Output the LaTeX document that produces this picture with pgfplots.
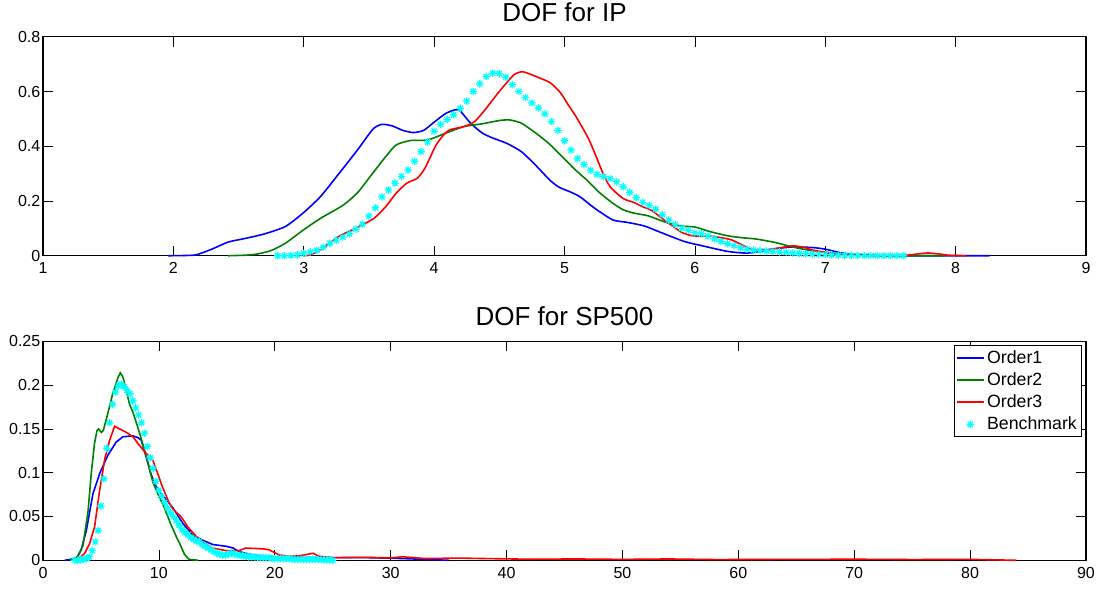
\documentclass[border=0pt]{standalone}
\usepackage{fontspec}
\setmainfont{Liberation Sans}
\usepackage{pgfplots}
\pgfplotsset{compat=1.18}
\definecolor{mblue}{rgb}{0,0,1}
\definecolor{mgreen}{rgb}{0,0.5,0}
\definecolor{mred}{rgb}{1,0,0}
\definecolor{mcyan}{rgb}{0,1,1}
\pgfdeclareplotmark{mstar}{%
  \pgfpathmoveto{\pgfqpoint{-\pgfplotmarksize}{0pt}}\pgfpathlineto{\pgfqpoint{\pgfplotmarksize}{0pt}}%
  \pgfpathmoveto{\pgfqpoint{0pt}{-\pgfplotmarksize}}\pgfpathlineto{\pgfqpoint{0pt}{\pgfplotmarksize}}%
  \pgfpathmoveto{\pgfqpoint{-0.707\pgfplotmarksize}{-0.707\pgfplotmarksize}}\pgfpathlineto{\pgfqpoint{0.707\pgfplotmarksize}{0.707\pgfplotmarksize}}%
  \pgfpathmoveto{\pgfqpoint{-0.707\pgfplotmarksize}{0.707\pgfplotmarksize}}\pgfpathlineto{\pgfqpoint{0.707\pgfplotmarksize}{-0.707\pgfplotmarksize}}%
  \pgfusepathqstroke}
\pgfplotsset{
  mat/.style={
    scale only axis, width=782.25pt, height=164.25pt,
    axis line style={line width=0.8pt},
    tick style={black, line width=0.5pt},
    major tick length=7.5pt, tick align=inside,
    ticklabel style={font=\fontsize{12}{14}\selectfont},
    /pgf/number format/assume math mode=true,
    xticklabel style={yshift=-1.5pt},
    yticklabel style={xshift=1.5pt},
    clip=false,
    title style={font=\fontsize{19.5}{23}\selectfont, at={(0.5,1)}, anchor=base, yshift=5.5pt},
    anchor=south west,
  },
  ln/.style={line width=1.2pt, no markers},
  bm/.style={only marks, mark=mstar, mark size=2.8pt, mcyan, mark options={line width=0.9pt}},
}
\begin{document}
\begin{tikzpicture}
\path[use as bounding box] (0,0) rectangle (829.5pt,-442.5pt);
% ---------------- top
\begin{axis}[mat, at={(32.25pt,-191.8pt)},
  xmin=1, xmax=9, ymin=0, ymax=0.8,
  xtick={1,2,...,9}, ytick={0,0.2,0.4,0.6,0.8},
  title={DOF for IP}]
\addplot[ln, mblue, smooth, tension=0.4] coordinates {
(1.96,0) (2.10,0.001) (2.18,0.004) (2.30,0.025) (2.42,0.05) (2.55,0.063) (2.70,0.08)
(2.86,0.107) (3.0,0.158) (3.13,0.217) (3.27,0.30) (3.41,0.385) (3.53,0.462) (3.60,0.48)
(3.68,0.474) (3.76,0.458) (3.84,0.45) (3.92,0.458) (4.0,0.488) (4.09,0.52) (4.16,0.533)
(4.20,0.529) (4.28,0.484) (4.37,0.448) (4.45,0.43) (4.56,0.41) (4.67,0.38) (4.78,0.33)
(4.89,0.275) (4.96,0.25) (5.05,0.232) (5.12,0.215) (5.23,0.174) (5.37,0.131) (5.48,0.122)
(5.61,0.109) (5.75,0.083) (5.92,0.052) (6.06,0.036) (6.25,0.016) (6.39,0.0097) (6.50,0.015)
(6.59,0.024) (6.75,0.032) (6.90,0.03) (7.0,0.024) (7.13,0.01) (7.30,0.002) (7.50,0) (8.26,0)};
\addplot[ln, mgreen, smooth, tension=0.4] coordinates {
(2.42,0) (2.55,0.002) (2.64,0.006) (2.75,0.019) (2.86,0.046) (3.0,0.095) (3.13,0.137)
(3.30,0.184) (3.41,0.229) (3.52,0.296) (3.63,0.363) (3.71,0.405) (3.82,0.421) (3.95,0.423)
(4.09,0.448) (4.23,0.472) (4.37,0.482) (4.50,0.494) (4.58,0.496) (4.67,0.484) (4.78,0.448)
(4.88,0.41) (4.98,0.363) (5.08,0.315) (5.17,0.277) (5.27,0.23) (5.37,0.192) (5.45,0.168)
(5.53,0.156) (5.64,0.146) (5.72,0.132) (5.81,0.117) (5.90,0.108) (6.0,0.105) (6.11,0.089)
(6.25,0.073) (6.36,0.066) (6.47,0.061) (6.61,0.049) (6.75,0.032) (6.88,0.02) (7.02,0.012)
(7.15,0.006) (7.30,0.002) (7.50,0) (7.92,0)};
\addplot[ln, mred, smooth, tension=0.4] coordinates {
(3.0,0) (3.05,0.003) (3.13,0.022) (3.27,0.071) (3.41,0.103) (3.54,0.137) (3.63,0.18)
(3.71,0.229) (3.79,0.265) (3.87,0.283) (3.93,0.32) (4.01,0.40) (4.07,0.44) (4.12,0.46)
(4.23,0.472) (4.31,0.49) (4.39,0.533) (4.50,0.60) (4.61,0.66) (4.68,0.672) (4.78,0.655)
(4.89,0.632) (4.97,0.595) (5.03,0.55) (5.09,0.507) (5.19,0.422) (5.29,0.307) (5.35,0.252)
(5.45,0.209) (5.53,0.195) (5.60,0.179) (5.67,0.165) (5.75,0.136) (5.84,0.105) (5.90,0.085)
(5.97,0.074) (6.05,0.071) (6.11,0.072) (6.20,0.066) (6.28,0.058) (6.36,0.04) (6.44,0.022)
(6.52,0.021) (6.59,0.024) (6.75,0.036) (6.84,0.03) (6.92,0.019) (7.11,0.004) (7.3,0.001)
(7.58,0) (7.70,0.006) (7.79,0.01) (7.90,0.005) (7.94,0.002) (8.08,0)};
\addplot[bm] table {
x y
2.80 0
2.85 0
2.90 0.001
2.95 0.003
3.00 0.009
3.05 0.014
3.10 0.02
3.15 0.031
3.20 0.045
3.25 0.057
3.30 0.068
3.35 0.08
3.40 0.097
3.45 0.115
3.50 0.145
3.55 0.175
3.60 0.215
3.65 0.24
3.70 0.265
3.75 0.29
3.80 0.313
3.85 0.345
3.90 0.38
3.95 0.416
4.00 0.455
4.05 0.48
4.10 0.498
4.15 0.515
4.20 0.538
4.25 0.565
4.30 0.60
4.35 0.628
4.40 0.655
4.45 0.667
4.50 0.665
4.55 0.652
4.60 0.625
4.65 0.6
4.70 0.578
4.75 0.558
4.80 0.54
4.85 0.518
4.90 0.49
4.95 0.458
5.00 0.42
5.05 0.386
5.10 0.355
5.15 0.333
5.20 0.312
5.25 0.297
5.30 0.289
5.35 0.282
5.40 0.27
5.45 0.252
5.50 0.232
5.55 0.212
5.60 0.195
5.65 0.183
5.70 0.17
5.75 0.15
5.80 0.13
5.85 0.114
5.90 0.1
5.95 0.093
6.00 0.084
6.05 0.08
6.10 0.072
6.15 0.062
6.20 0.052
6.25 0.044
6.30 0.037
6.35 0.029
6.40 0.024
6.45 0.021
6.50 0.019
6.55 0.017
6.60 0.016
6.65 0.014
6.70 0.012
6.75 0.01
6.80 0.008
6.85 0.007
6.90 0.006
6.95 0.005
7.00 0.004
7.05 0.003
7.10 0.002
7.15 0.001
7.20 0.001
7.25 0
7.30 0
7.35 0
7.40 0
7.45 0
7.50 0
7.55 0
7.60 0
};
\end{axis}
% ---------------- bottom
\begin{axis}[mat, at={(32.25pt,-420.2pt)},
  xmin=0, xmax=90, ymin=0, ymax=0.25,
  xtick={0,10,...,90}, ytick={0,0.05,0.1,0.15,0.2,0.25},
  yticklabel style={/pgf/number format/.cd, fixed, precision=2},
  title={DOF for SP500},
  legend style={at={(1,1)}, anchor=north east, xshift=-3pt, yshift=-3pt,
    font=\fontsize{13.3}{15}\selectfont, draw=black, line width=0.8pt,
    inner sep=1.5pt, row sep=1.5pt},
  legend cell align=left,
  legend image code/.code={\draw[mark repeat=2, mark phase=2, #1] plot coordinates {(0pt,0pt) (10pt,0pt) (20pt,0pt)};}]
\addplot[ln, mblue] coordinates {
(1.87,0) (2.87,0.002) (3.3,0.012) (3.74,0.034) (4.31,0.076) (4.89,0.099) (5.6,0.12)
(6.32,0.135) (6.9,0.141) (7.76,0.142) (8.2,0.14) (8.48,0.137) (8.9,0.118) (9.3,0.099)
(9.77,0.084) (10.34,0.074) (11.2,0.06) (12.07,0.042) (12.9,0.029) (13.6,0.024) (14.64,0.018)
(15.8,0.016) (16.4,0.014) (16.9,0.010) (18.1,0.006) (19.8,0.004) (22.1,0.0034) (25,0.003)
(28,0.003) (31,0.002) (33,0.001) (35,0)};
\addlegendentry{Order1}
\addplot[ln, mgreen] coordinates {
(2.3,0) (3.0,0.004) (3.45,0.017) (3.88,0.055) (4.17,0.1) (4.45,0.134) (4.66,0.148)
(4.8,0.150) (5.03,0.146) (5.2,0.148) (5.6,0.168) (6.03,0.191) (6.46,0.208) (6.67,0.214)
(6.9,0.209) (7.18,0.194) (7.47,0.178) (7.76,0.169) (8.2,0.151) (8.6,0.133) (9.05,0.112)
(9.48,0.089) (9.9,0.076) (10.5,0.059) (11.0,0.042) (11.5,0.027) (11.8,0.019) (12.2,0.007)
(12.6,0.001) (13.4,0)};
\addlegendentry{Order2}
\addplot[ln, mred] coordinates {
(2.7,0) (3.0,0.001) (3.6,0.008) (4.02,0.019) (4.45,0.038) (4.89,0.08) (5.32,0.115)
(5.75,0.137) (6.18,0.153) (6.6,0.15) (7.2,0.146) (7.76,0.141) (8.33,0.131) (8.9,0.122)
(9.48,0.114) (9.9,0.099) (10.3,0.084) (10.9,0.065) (11.3,0.057) (11.9,0.05) (12.5,0.038)
(13.1,0.029) (13.5,0.023) (14.6,0.014) (15.8,0.011) (16.9,0.011) (17.5,0.014) (19.0,0.013)
(19.5,0.012) (20.4,0.006) (21.2,0.0046) (22.1,0.005) (23.3,0.008) (23.8,0.0046) (25,0.003)
(27.8,0.0034) (30,0.0027) (31,0.004) (33,0.002) (36,0.0025) (38,0.002) (42,0.0012)
(46,0.0015) (50,0.001) (54,0.0015) (58,0.0008) (65,0.001) (70,0.0012) (75,0.0008)
(80,0.001) (84,0)};
\addlegendentry{Order3}
\addplot[bm] table {
x y
2.75 0
3.00 0
3.25 0.0005
3.50 0.001
3.75 0.002
4.00 0.004
4.25 0.011
4.50 0.021
4.75 0.034
5.00 0.062
5.25 0.093
5.50 0.128
5.75 0.157
6.00 0.178
6.25 0.192
6.50 0.199
6.75 0.201
7.00 0.198
7.25 0.194
7.50 0.19
7.75 0.182
8.00 0.174
8.25 0.166
8.50 0.157
8.75 0.145
9.00 0.13
9.25 0.117
9.50 0.105
9.75 0.09
10.00 0.08
10.25 0.073
10.50 0.066
10.75 0.06
11.00 0.054
11.25 0.05
11.50 0.045
11.75 0.04
12.00 0.035
12.25 0.032
12.50 0.029
12.75 0.026
13.00 0.024
13.25 0.022
13.50 0.021
13.75 0.018
14.00 0.016
14.25 0.014
14.50 0.012
14.75 0.01
15.00 0.008
15.25 0.007
15.50 0.006
15.75 0.006
16.00 0.007
16.25 0.008
16.50 0.007
16.75 0.006
17.00 0.006
17.25 0.005
17.50 0.005
17.75 0.004
18.00 0.004
18.25 0.004
18.50 0.003
18.75 0.003
19.00 0.003
19.25 0.003
19.50 0.003
19.75 0.002
20.00 0.002
20.25 0.002
20.50 0.002
20.75 0.002
21.00 0.002
21.25 0.002
21.50 0.001
21.75 0.001
22.00 0.001
22.25 0.001
22.50 0.001
22.75 0.001
23.00 0.001
23.25 0.001
23.50 0.001
23.75 0.001
24.00 0.0005
24.25 0.0005
24.50 0.0005
24.75 0.0005
25.00 0
};
\addlegendentry{Benchmark}
\end{axis}
\end{tikzpicture}
\end{document}
